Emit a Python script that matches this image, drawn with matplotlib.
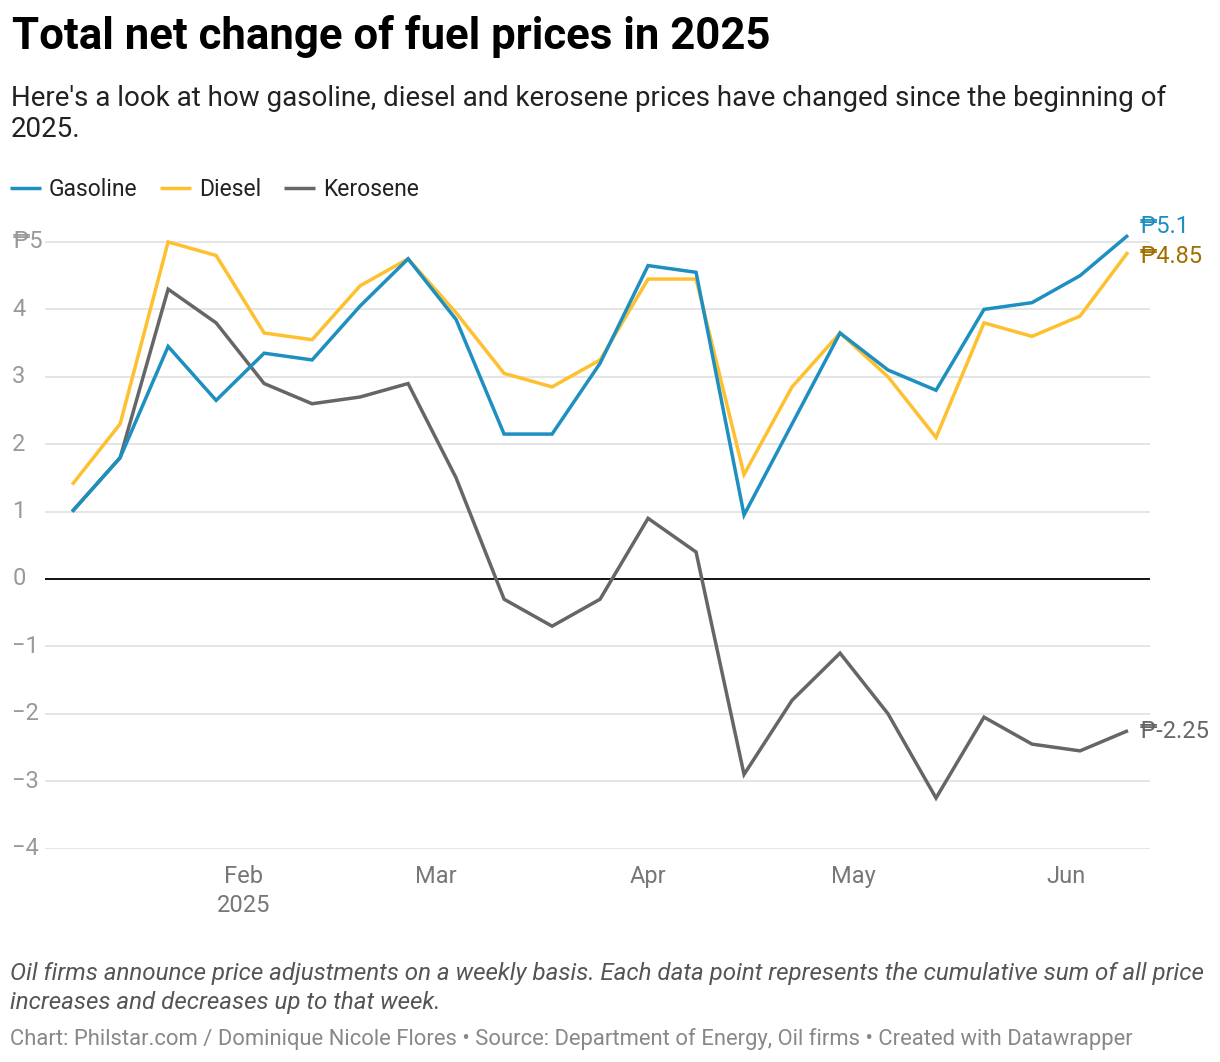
import matplotlib
matplotlib.use("Agg")
import matplotlib.pyplot as plt
import pandas as pd

# weekly price-adjustment dates (Tuesdays)
weeks = ["2025-01-07", "2025-01-14", "2025-01-21", "2025-01-28", "2025-02-04",
         "2025-02-11", "2025-02-18", "2025-02-25", "2025-03-04", "2025-03-11",
         "2025-03-18", "2025-03-25", "2025-04-01", "2025-04-08", "2025-04-15",
         "2025-04-22", "2025-04-29", "2025-05-06", "2025-05-13", "2025-05-20",
         "2025-05-27", "2025-06-03", "2025-06-10"]

gasoline = [1.0, 1.8, 3.45, 2.65, 3.35, 3.25, 4.05, 4.75, 3.85, 2.15, 2.15, 3.2,
            4.65, 4.55, 0.95, 2.3, 3.65, 3.1, 2.8, 4.0, 4.1, 4.5, 5.1]
diesel = [1.4, 2.3, 5.0, 4.8, 3.65, 3.55, 4.35, 4.75, 3.95, 3.05, 2.85, 3.25,
          4.45, 4.45, 1.55, 2.85, 3.65, 3.0, 2.1, 3.8, 3.6, 3.9, 4.85]
kerosene = [1.0, 1.8, 4.3, 3.8, 2.9, 2.6, 2.7, 2.9, 1.5, -0.3, -0.7, -0.3,
            0.9, 0.4, -2.9, -1.8, -1.1, -2.0, -3.25, -2.05, -2.45, -2.55, -2.25]

y_ticks = [-4, -3, -2, -1, 0, 1, 2, 3, 4, 5]
y_labels = ["\u22124", "\u22123", "\u22122", "\u22121", "0", "1", "2", "3", "4", "\u20b15"]
month_ticks = ["2025-02-01", "2025-03-01", "2025-04-01", "2025-05-01", "2025-06-01"]
month_labels = ["Feb\n2025", "Mar", "Apr", "May", "Jun"]

series = [
    ("Gasoline", gasoline, "#1d8fc0", "#1d8fc0", "\u20b15.1"),
    ("Diesel", diesel, "#fec02f", "#a06f00", "\u20b14.85"),
    ("Kerosene", kerosene, "#666666", "#666666", "\u20b1-2.25"),
]
label_offsets = {"Gasoline": (8.5, 6), "Diesel": (8.5, -3.5), "Kerosene": (8.5, -0.5)}

plt.rcParams['font.family'] = ['Roboto', 'DejaVu Sans']

dates = pd.to_datetime(weeks)

fig = plt.figure(figsize=(12.2, 10.62), dpi=100)
ax = fig.add_axes([45 / 1220, 1 - 848.6 / 1062, 1105 / 1220, (848.6 - 228.5) / 1062])

for y in y_ticks:
    if y == 0:
        ax.axhline(y, color="#111111", lw=1.4, zorder=2)
    else:
        ax.axhline(y, color="#e3e3e3", lw=1.3, zorder=1)

lines = []
for name, vals, col, lab_col, end_lab in series[::-1]:
    ln, = ax.plot(dates, vals, color=col, lw=2.5, solid_joinstyle="miter",
                  solid_capstyle="butt", zorder=3, label=name)
    lines.append(ln)
    dx, dy = label_offsets[name]
    ax.annotate(end_lab, xy=(dates[-1], vals[-1]), xytext=(dx, dy),
                textcoords="offset points", ha="left", va="center",
                fontsize=17, color=lab_col)
lines = lines[::-1]

ax.set_xlim(pd.Timestamp("2025-01-03 01:00"), pd.Timestamp("2025-06-13 05:00"))
ax.set_ylim(-4, 5.2)

ax.set_yticks(y_ticks)
ax.set_yticklabels(y_labels)
ax.tick_params(axis="y", length=0, pad=23.5, labelsize=17, labelcolor="#999999")
for t in ax.get_yticklabels():
    t.set_ha("left")
    t.set_va("center")

ax.set_xticks(pd.to_datetime(month_ticks))
ax.set_xticklabels(month_labels, linespacing=1.3)
ax.tick_params(axis="x", length=0, pad=12, labelsize=17, labelcolor="#777777")

for s in ax.spines.values():
    s.set_visible(False)

fig.text(12 / 1220, 1 - 36 / 1062, "Total net change of fuel prices in 2025",
         fontsize=31.5, fontweight="bold", color="#000000", va="center")
fig.text(11 / 1220, 1 - 114 / 1062,
         "Here's a look at how gasoline, diesel and kerosene prices have changed since the beginning of\n2025.",
         fontsize=20, color="#222222", va="center", linespacing=1.22)

fig.legend(handles=lines, labels=[s[0] for s in series], loc="center left",
           bbox_to_anchor=(5 / 1220, 1 - 190 / 1062), ncol=3, frameon=False,
           fontsize=16.5, handlelength=1.35, handletextpad=0.35, columnspacing=1.0,
           borderaxespad=0, borderpad=0.2, labelcolor="#222222")

fig.text(10 / 1220, 1 - 988 / 1062,
         "Oil firms announce price adjustments on a weekly basis. Each data point represents the cumulative sum of all price\nincreases and decreases up to that week.",
         fontsize=17.35, style="italic", color="#555555", va="center", linespacing=1.3)
fig.text(10 / 1220, 1 - 1039 / 1062,
         "Chart: Philstar.com / Dominique Nicole Flores \u2022 Source: Department of Energy, Oil firms \u2022 Created with Datawrapper",
         fontsize=15.8, color="#888888", va="center")

fig.savefig("out.png", dpi=100)
